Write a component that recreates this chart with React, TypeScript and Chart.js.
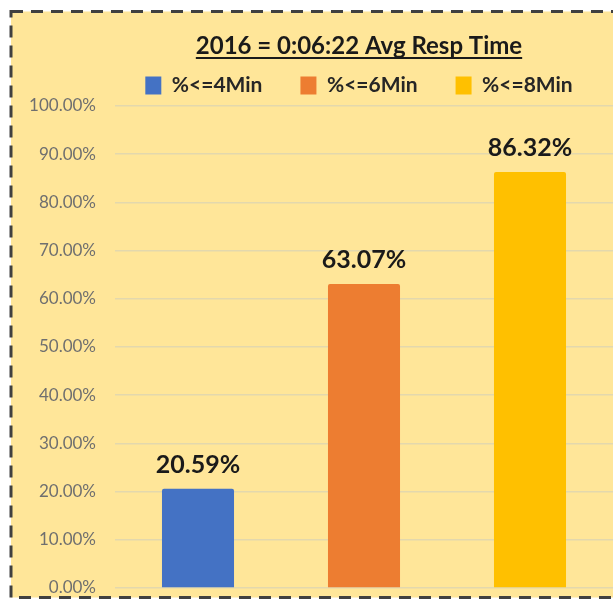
import React, { useEffect, useRef } from 'react';
import { Chart, registerables } from 'chart.js';

Chart.register(...registerables);

const chartTitle = '2016 = 0:06:22 Avg Resp Time';
const categories = ['%<=4Min', '%<=6Min', '%<=8Min'];
const values = [20.59, 63.07, 86.32];
const seriesColors = ['#4472C4', '#ED7D31', '#FFC000'];

const FONT = 'Lato';
const TITLE_SIZE = 24;
const TITLE_PAD_TOP = 31.6;
const TITLE_LINE = TITLE_SIZE * 1.2;

const framePlugin = {
  id: 'frame',
  beforeDraw(chart: any) {
    const { ctx, width, height } = chart;
    ctx.save();
    ctx.fillStyle = '#ffffff';
    ctx.fillRect(0, 0, width, height);
    ctx.fillStyle = '#FFE699';
    ctx.fillRect(11, 11.5, 697, 586);
    ctx.setLineDash([12, 8]);
    ctx.lineWidth = 3;
    ctx.strokeStyle = '#404040';
    ctx.strokeRect(11, 11.5, 697, 586);
    ctx.restore();
  },
};

const underlinePlugin = {
  id: 'underline',
  afterDraw(chart: any) {
    const tb = chart.titleBlock;
    if (!tb) return;
    const { ctx } = chart;
    ctx.save();
    ctx.font = `bold ${TITLE_SIZE}px ${FONT}`;
    const w = ctx.measureText(chartTitle).width;
    const cx = (tb.left + tb.right) / 2;
    const cy = tb.top + TITLE_PAD_TOP + TITLE_LINE / 2;
    ctx.fillStyle = '#1a1a1a';
    ctx.fillRect(cx - w / 2, cy + 11, w, 2);
    ctx.restore();
  },
};

const valueLabelPlugin = {
  id: 'valueLabels',
  afterDatasetsDraw(chart: any) {
    const { ctx } = chart;
    ctx.save();
    ctx.font = `bold 25px ${FONT}`;
    ctx.fillStyle = '#1a1a1a';
    ctx.textAlign = 'center';
    ctx.textBaseline = 'middle';
    chart.data.datasets.forEach((ds: any, i: number) => {
      const meta = chart.getDatasetMeta(i);
      meta.data.forEach((el: any, j: number) => {
        const v = ds.data[j];
        if (v == null) return;
        ctx.fillText(`${Number(v).toFixed(2)}%`, el.x, el.y - 24);
      });
    });
    ctx.restore();
  },
};

export default function App() {
  const ref = useRef<HTMLCanvasElement>(null);

  useEffect(() => {
    if (!ref.current) return;
    Chart.defaults.font.family = FONT;
    const chart = new Chart(ref.current, {
      type: 'bar',
      data: {
        labels: categories,
        datasets: categories.map((name, i) => ({
          label: name,
          data: categories.map((_, j) => (j === i ? values[i] : null)),
          backgroundColor: seriesColors[i],
          borderWidth: 0,
          borderRadius: 2,
          borderSkipped: 'bottom',
          categoryPercentage: 1,
          barPercentage: 0.434,
        })),
      },
      options: {
        animation: false,
        responsive: false,
        devicePixelRatio: 1,
        skipNull: true,
        layout: { padding: { left: 0, right: 0, top: 0, bottom: 18 } },
        plugins: {
          title: {
            display: true,
            text: chartTitle,
            color: '#1a1a1a',
            font: { family: FONT, size: TITLE_SIZE, weight: 'bold', lineHeight: 1.2 },
            padding: { top: TITLE_PAD_TOP, bottom: 37 - TITLE_PAD_TOP - TITLE_LINE },
          },
          legend: {
            display: true,
            position: 'top',
            labels: {
              color: '#262626',
              font: { family: FONT, size: 21, weight: 'bold' },
              boxWidth: 16,
              boxHeight: 18,
              padding: 38,
            },
          },
          tooltip: { enabled: false },
        },
        scales: {
          x: {
            display: false,
            grid: { display: false },
          },
          y: {
            position: 'left',
            min: 0,
            max: 100,
            ticks: {
              stepSize: 10,
              color: '#6f6f6f',
              font: { family: FONT, size: 17 },
              padding: 0,
              callback: (v: any) => `${Number(v).toFixed(2)}%`,
            },
            grid: {
              color: '#E3D8AD',
              lineWidth: 1.5,
              drawTicks: true,
              tickLength: 19,
              tickColor: 'rgba(0,0,0,0)',
            },
            border: { display: false },
            afterFit: (s: any) => {
              s.width = 115;
            },
          },
          yRight: {
            type: 'linear',
            position: 'right',
            display: true,
            ticks: { display: false },
            grid: { display: false },
            border: { display: false },
            afterFit: (s: any) => {
              s.width = 105;
            },
          },
        },
      } as any,
      plugins: [framePlugin, underlinePlugin, valueLabelPlugin],
    });
    return () => chart.destroy();
  }, []);

  return (
    <div
      style={{
        position: 'fixed',
        left: 0,
        top: 0,
        width: 613,
        height: 606,
        overflow: 'hidden',
        background: '#ffffff',
      }}
    >
      <canvas ref={ref} width={718} height={606} style={{ display: 'block', width: 718, height: 606 }} />
    </div>
  );
}
